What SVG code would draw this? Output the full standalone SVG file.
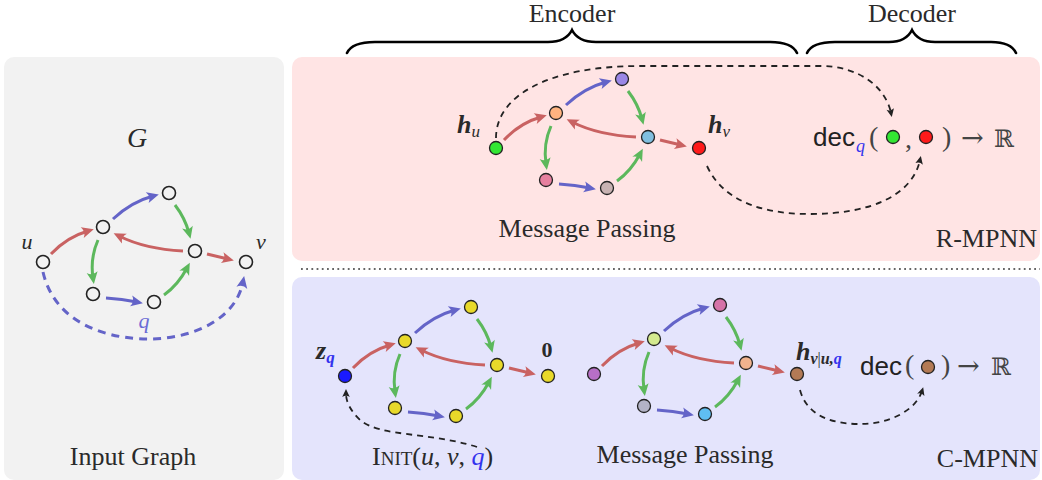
<svg xmlns="http://www.w3.org/2000/svg" width="1042" height="480" viewBox="0 0 1042 480">
<style>
.serif{font-family:"Liberation Serif","Times New Roman",serif;fill:#2a2a2a}
.title{font-size:26px}
.it{font-style:italic}
.bi{font-style:italic;font-weight:bold}
.sans{font-family:"Liberation Sans",Arial,sans-serif;fill:#222}
.math{font-family:"DejaVu Serif","Liberation Serif",serif;fill:#444}
.er{fill:none;stroke:#c96262;stroke-width:3;marker-end:url(#ar)}
.eb{fill:none;stroke:#6464c8;stroke-width:3;marker-end:url(#ab)}
.eg{fill:none;stroke:#5cb85c;stroke-width:3;marker-end:url(#ag)}
.dk{fill:none;stroke:#222;stroke-width:1.8;stroke-dasharray:6 5;marker-end:url(#ak)}
.nd{stroke:#222;stroke-width:1.3}
.brace{fill:none;stroke:#000;stroke-width:2.6;stroke-linecap:round}
</style>
<defs>
<marker id="ar" markerUnits="userSpaceOnUse" viewBox="-8 -7 16 14" markerWidth="16" markerHeight="14" refX="0" refY="0" orient="auto"><path d="M6,0 L-6,-5.5 Q-2,0 -6,5.5 Z" fill="#c96262"/></marker>
<marker id="ab" markerUnits="userSpaceOnUse" viewBox="-8 -7 16 14" markerWidth="16" markerHeight="14" refX="0" refY="0" orient="auto"><path d="M6,0 L-6,-5.5 Q-2,0 -6,5.5 Z" fill="#6464c8"/></marker>
<marker id="ag" markerUnits="userSpaceOnUse" viewBox="-8 -7 16 14" markerWidth="16" markerHeight="14" refX="0" refY="0" orient="auto"><path d="M6,0 L-6,-5.5 Q-2,0 -6,5.5 Z" fill="#5cb85c"/></marker>
<marker id="ak" markerUnits="userSpaceOnUse" viewBox="-6 -5 12 10" markerWidth="12" markerHeight="10" refX="0" refY="0" orient="auto"><path d="M4,0 L-4,-3.8 Q-1.5,0 -4,3.8 Z" fill="#222"/></marker>
</defs>

<!-- panels -->
<rect x="4" y="57" width="280" height="423" rx="10" fill="#f2f2f2"/>
<rect x="292" y="57" width="748" height="204" rx="10" fill="#ffe4e4"/>
<rect x="292" y="277" width="748" height="203" rx="10" fill="#e4e4fc"/>
<line x1="301" y1="269" x2="1040" y2="269" stroke="#666" stroke-width="1.8" stroke-dasharray="1.8 3.4"/>

<!-- braces -->
<path class="brace" d="M347,53 Q352,42 375,42 L548,42 Q566,42 572,30 Q578,42 596,42 L770,42 Q792,42 797,53"/>
<path class="brace" d="M807,53 Q812,42 835,42 L889,42 Q906,42 912,30 Q918,42 935,42 L991,42 Q1011,42 1016,53"/>
<text class="serif title" x="572" y="22" text-anchor="middle">Encoder</text>
<text class="serif title" x="912" y="22" text-anchor="middle">Decoder</text>

<!-- connectors -->
<g id="connectors">
 <g transform="translate(0,0)">
  <path class="er" d="M51,254 Q67,237 88,231"/>
  <path class="eb" d="M113,219 Q131,202 153,196"/>
  <path class="eg" d="M175,205 Q185,218 189,233"/>
  <path class="er" d="M183,251 Q145,249 119,236"/>
  <path class="er" d="M207,254 L228,259"/>
  <path class="eg" d="M98,240 Q90,258 93,278"/>
  <path class="eb" d="M106,298 Q122,299 137,302"/>
  <path class="eg" d="M164,295 Q178,285 187,268"/>
  <path fill="none" stroke="#6464c8" stroke-width="3" stroke-dasharray="8 6" marker-end="url(#ab)" d="M43,272 C55,325 110,339 148,339 C195,339 236,318 243,282"/>
 </g>
 <g transform="translate(453,-114)">
  <path class="er" d="M51,254 Q67,237 88,231"/>
  <path class="eb" d="M113,219 Q131,202 153,196"/>
  <path class="eg" d="M175,205 Q185,218 189,233"/>
  <path class="er" d="M183,251 Q145,249 119,236"/>
  <path class="er" d="M207,254 L228,259"/>
  <path class="eg" d="M98,240 Q90,258 93,278"/>
  <path class="eb" d="M106,298 Q122,299 137,302"/>
  <path class="eg" d="M164,295 Q178,285 187,268"/>
 </g>
 <g transform="translate(302,114)">
  <path class="er" d="M51,254 Q67,237 88,231"/>
  <path class="eb" d="M113,219 Q131,202 153,196"/>
  <path class="eg" d="M175,205 Q185,218 189,233"/>
  <path class="er" d="M183,251 Q145,249 119,236"/>
  <path class="er" d="M207,254 L228,259"/>
  <path class="eg" d="M98,240 Q90,258 93,278"/>
  <path class="eb" d="M106,298 Q122,299 137,302"/>
  <path class="eg" d="M164,295 Q178,285 187,268"/>
 </g>
 <g transform="translate(551,112)">
  <path class="er" d="M51,254 Q67,237 88,231"/>
  <path class="eb" d="M113,219 Q131,202 153,196"/>
  <path class="eg" d="M175,205 Q185,218 189,233"/>
  <path class="er" d="M183,251 Q145,249 119,236"/>
  <path class="er" d="M207,254 L228,259"/>
  <path class="eg" d="M98,240 Q90,258 93,278"/>
  <path class="eb" d="M106,298 Q122,299 137,302"/>
  <path class="eg" d="M164,295 Q178,285 187,268"/>
 </g>
 <path class="dk" d="M496,138 C496,95 550,66 640,66 L820,66 C860,66 886,88 891,113"/>
 <path class="dk" d="M707,166 C725,205 770,214 810,214 C870,214 912,196 920,160"/>
 <path class="dk" d="M477,447 C430,432 380,437 360,420 C350,410 346,402 346,393"/>
 <path class="dk" d="M800,390 C808,420 840,424 860,424 C890,424 916,410 922,391"/>
</g>

<!-- left input graph -->
<g id="input-graph">
 <text class="serif it" x="137" y="147" font-size="28" text-anchor="middle">G</text>
 <g id="g-u"><circle cx="43" cy="262" r="6.5" fill="#f2f2f2" stroke="#222" stroke-width="1.6"/><text class="serif it" x="27" y="249" font-size="22" text-anchor="middle">u</text></g>
 <g id="g-a"><circle cx="103" cy="227" r="6.5" fill="#f2f2f2" stroke="#222" stroke-width="1.6"/></g>
 <g id="g-b"><circle cx="169" cy="193" r="6.5" fill="#f2f2f2" stroke="#222" stroke-width="1.6"/></g>
 <g id="g-c"><circle cx="195" cy="251" r="6.5" fill="#f2f2f2" stroke="#222" stroke-width="1.6"/></g>
 <g id="g-v"><circle cx="246" cy="262" r="6.5" fill="#f2f2f2" stroke="#222" stroke-width="1.6"/><text class="serif it" x="261" y="249" font-size="22" text-anchor="middle">v</text></g>
 <g id="g-d"><circle cx="93" cy="294" r="6.5" fill="#f2f2f2" stroke="#222" stroke-width="1.6"/></g>
 <g id="g-e"><circle cx="154" cy="302" r="6.5" fill="#f2f2f2" stroke="#222" stroke-width="1.6"/></g>
 <text class="serif it" x="144" y="328" font-size="22" text-anchor="middle" style="fill:#6b6bd6">q</text>
 <text class="serif title" x="133" y="465" text-anchor="middle">Input Graph</text>
</g>

<!-- R-MPNN -->
<g id="r-mpnn">
 <g id="r-u"><circle class="nd" cx="496" cy="148" r="6.5" fill="#33e633"/><text class="serif bi" x="457" y="133" font-size="26">h<tspan font-size="17" dy="4" font-weight="normal">u</tspan></text></g>
 <g id="r-a"><circle class="nd" cx="556" cy="113" r="6.5" fill="#ffb380"/></g>
 <g id="r-b"><circle class="nd" cx="622" cy="79" r="6.5" fill="#9b87e6"/></g>
 <g id="r-c"><circle class="nd" cx="648" cy="137" r="6.5" fill="#80bfdf"/></g>
 <g id="r-v"><circle class="nd" cx="699" cy="148" r="6.5" fill="#ff1a1a"/><text class="serif bi" x="708" y="133" font-size="26">h<tspan font-size="17" dy="4" font-weight="normal">v</tspan></text></g>
 <g id="r-d"><circle class="nd" cx="546" cy="180" r="6.5" fill="#e6809f"/></g>
 <g id="r-e"><circle class="nd" cx="607" cy="188" r="6.5" fill="#c8b2b2"/></g>
 <text class="serif title" x="587" y="237" text-anchor="middle">Message Passing</text>
 <g id="r-dec">
  <text class="sans" x="813" y="146" font-size="26">dec</text>
  <text class="serif it" x="856" y="152" font-size="18" style="fill:#3333ee">q</text>
  <text class="serif" x="869" y="146" font-size="28" style="fill:#444">(</text>
  <circle class="nd" cx="893" cy="137" r="6.5" fill="#33e633"/>
  <text class="serif" x="905" y="148" font-size="28" style="fill:#444">,</text>
  <circle class="nd" cx="926" cy="137" r="6.5" fill="#ff1a1a"/>
  <text class="serif" x="942" y="146" font-size="28" style="fill:#444">)</text>
  <text class="math" x="961" y="147" font-size="27">→</text>
  <text class="math" x="994" y="147" font-size="24">ℝ</text>
 </g>
 <text class="serif title" x="1037" y="247" text-anchor="end">R-MPNN</text>
</g>

<!-- C-MPNN -->
<g id="c-mpnn">
 <g id="c1-u"><circle class="nd" cx="345" cy="376" r="6.5" fill="#1a1aff"/><text class="serif bi" x="316" y="359" font-size="26">z<tspan font-size="17" dy="4" style="fill:#3333ee">q</tspan></text></g>
 <g id="c1-a"><circle class="nd" cx="405" cy="341" r="6.5" fill="#e8d92a"/></g>
 <g id="c1-b"><circle class="nd" cx="471" cy="307" r="6.5" fill="#e8d92a"/></g>
 <g id="c1-c"><circle class="nd" cx="497" cy="365" r="6.5" fill="#e8d92a"/></g>
 <g id="c1-v"><circle class="nd" cx="548" cy="376" r="6.5" fill="#e8d92a"/><text class="serif" x="547" y="357" font-size="22" font-weight="bold" text-anchor="middle">0</text></g>
 <g id="c1-d"><circle class="nd" cx="395" cy="408" r="6.5" fill="#e8d92a"/></g>
 <g id="c1-e"><circle class="nd" cx="456" cy="416" r="6.5" fill="#e8d92a"/></g>
 <text class="serif" x="372" y="465" font-size="26">I<tspan font-size="19">NIT</tspan>(<tspan class="it">u</tspan>, <tspan class="it">v</tspan>, <tspan class="it" style="fill:#3333ee">q</tspan>)</text>

 <g id="c2-u"><circle class="nd" cx="594" cy="374" r="6.5" fill="#b76fc7"/></g>
 <g id="c2-a"><circle class="nd" cx="654" cy="339" r="6.5" fill="#d4ea8f"/></g>
 <g id="c2-b"><circle class="nd" cx="720" cy="305" r="6.5" fill="#d673a8"/></g>
 <g id="c2-c"><circle class="nd" cx="746" cy="363" r="6.5" fill="#f0b38e"/></g>
 <g id="c2-v"><circle class="nd" cx="797" cy="374" r="6.5" fill="#b37a55"/><text class="serif bi" x="796" y="360" font-size="26">h<tspan font-size="16" dy="4">v<tspan font-weight="normal" font-style="normal">|</tspan>u,<tspan style="fill:#3333ee">q</tspan></tspan></text></g>
 <g id="c2-d"><circle class="nd" cx="644" cy="406" r="6.5" fill="#b3b3c6"/></g>
 <g id="c2-e"><circle class="nd" cx="705" cy="414" r="6.5" fill="#5fbef2"/></g>
 <text class="serif title" x="685" y="463" text-anchor="middle">Message Passing</text>
 <g id="c-dec">
  <text class="sans" x="860" y="375" font-size="26">dec</text>
  <text class="serif" x="905" y="374" font-size="28" style="fill:#444">(</text>
  <circle class="nd" cx="928" cy="367" r="6.5" fill="#b37a55"/>
  <text class="serif" x="941" y="374" font-size="28" style="fill:#444">)</text>
  <text class="math" x="957" y="375" font-size="27">→</text>
  <text class="math" x="991" y="375" font-size="24">ℝ</text>
 </g>
 <text class="serif title" x="1038" y="467" text-anchor="end">C-MPNN</text>
</g>
</svg>
